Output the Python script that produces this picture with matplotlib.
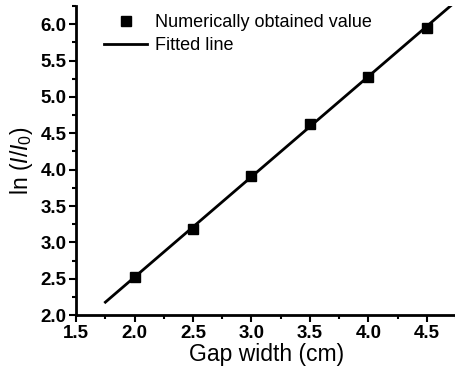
import numpy as np
import matplotlib
matplotlib.use("Agg")
import matplotlib.pyplot as plt
from matplotlib.ticker import MultipleLocator

plt.rcParams['font.family'] = ['Liberation Sans', 'DejaVu Sans']
plt.rcParams['mathtext.fontset'] = 'custom'
plt.rcParams['mathtext.it'] = 'Liberation Sans:italic'
plt.rcParams['mathtext.rm'] = 'Liberation Sans'

# data
gap_width = [2.0, 2.5, 3.0, 3.5, 4.0, 4.5]
ln_ratio = [2.52, 3.19, 3.91, 4.63, 5.28, 5.95]
fit_range = [1.75, 4.75]

slope, intercept = np.polyfit(gap_width, ln_ratio, 1)
fit_x = np.array(fit_range)
fit_y = slope * fit_x + intercept

fig = plt.figure(figsize=(4.56, 3.76), dpi=100)
ax = fig.add_axes([0.167, 0.162, 0.833, 0.822])

ax.plot(gap_width, ln_ratio, 's', color='black', markersize=7,
        label='Numerically obtained value')
ax.plot(fit_x, fit_y, '-', color='black', linewidth=2, label='Fitted line')

ax.set_xlim(1.5, 4.75)
ax.set_ylim(2.0, 6.25)
ax.xaxis.set_major_locator(MultipleLocator(0.5))
ax.xaxis.set_minor_locator(MultipleLocator(0.25))
ax.yaxis.set_major_locator(MultipleLocator(0.5))
ax.yaxis.set_minor_locator(MultipleLocator(0.25))
ax.xaxis.set_major_formatter(plt.FormatStrFormatter('%.1f'))
ax.yaxis.set_major_formatter(plt.FormatStrFormatter('%.1f'))

for side in ['top', 'right']:
    ax.spines[side].set_visible(False)
for side in ['left', 'bottom']:
    ax.spines[side].set_linewidth(2)

ax.tick_params(which='major', direction='out', length=5, width=1.5,
               labelsize=13.5, pad=2)
ax.tick_params(which='minor', direction='out', length=3, width=1.5)
for lbl in ax.get_xticklabels() + ax.get_yticklabels():
    lbl.set_fontweight('bold')

ax.set_xlabel('Gap width (cm)', fontsize=16.5, labelpad=1)
ax.set_ylabel(r'ln ($\mathit{I}$/$\mathit{I}_0$)', fontsize=16.5,
              labelpad=4)

ax.legend(loc='upper left', bbox_to_anchor=(0.04, 1.015), frameon=False,
          fontsize=13, handlelength=2.4, handletextpad=0.45,
          labelspacing=0.35, borderpad=0.2)

fig.savefig('out.png', dpi=100)
